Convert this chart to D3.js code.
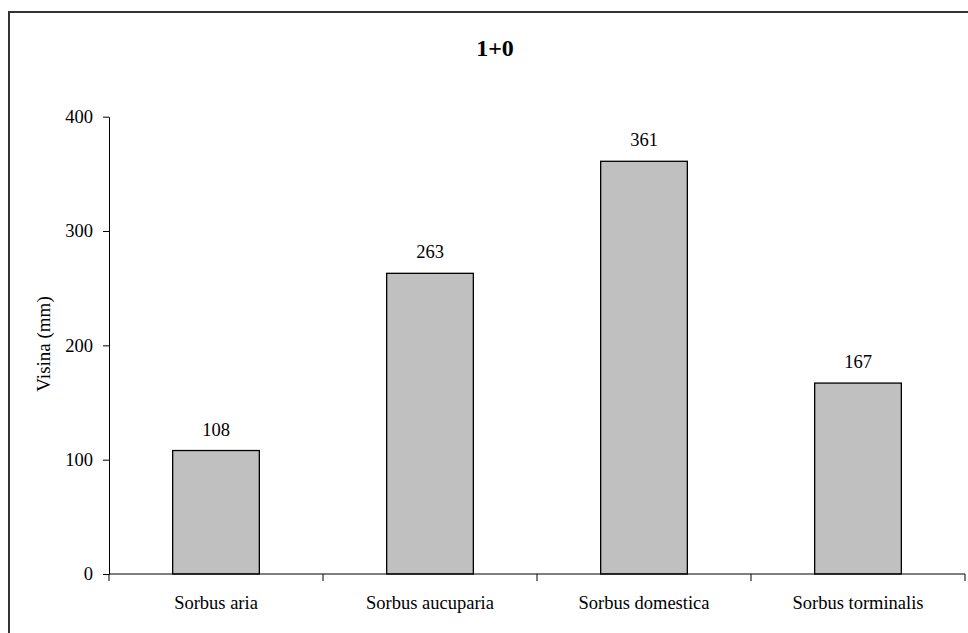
<!DOCTYPE html>
<html><head><meta charset="utf-8">
<script src="https://cdn.jsdelivr.net/npm/d3@7"></script>
<style>body{margin:0;background:#fff}svg{display:block}</style>
</head><body>
<script>
const categories = ["Sorbus aria","Sorbus aucuparia","Sorbus domestica","Sorbus torminalis"];
const values = [108,263,361,167];
const yTicks = [0,100,200,300,400];
const title = "1+0";
const yLabel = "Visina (mm)";

(function(){
const W = 968, H = 633, FF = "Liberation Serif", FS = 18.5;
const svg = d3.select("body").append("svg").attr("width", W).attr("height", H).attr("font-family",FF);
svg.append("rect").attr("x",9).attr("y",12).attr("width",W+10).attr("height",H+10)
  .attr("fill","none").attr("stroke","#333").attr("stroke-width",2);

const pL = 109, pR = 965, pT = 116.7, pB = 574;
const x = d3.scaleBand().domain(categories).range([pL,pR]).padding(0);
const y = d3.scaleLinear().domain([0,400]).range([pB, pT]);
const barW = x.bandwidth()*0.405;

svg.append("g").selectAll("rect").data(values).join("rect")
  .attr("x",(d,i)=>x(categories[i])+x.bandwidth()/2-barW/2)
  .attr("y",d=>y(d)).attr("width",barW).attr("height",d=>y(0)-y(d))
  .attr("fill","#c0c0c0").attr("stroke","#000").attr("stroke-width",1.3);

svg.append("g").selectAll("text").data(values).join("text")
  .attr("font-family",FF)
  .attr("x",(d,i)=>x(categories[i])+x.bandwidth()/2)
  .attr("y",d=>y(d)-15).attr("text-anchor","middle").attr("font-size",FS).text(d=>d);

// y axis
const ya = svg.append("g").attr("transform",`translate(${pL},0)`)
  .call(d3.axisLeft(y).tickValues(yTicks).tickSize(6).tickPadding(10).tickSizeOuter(0));
ya.attr("font-family",FF).attr("font-size",FS);
ya.select(".domain").attr("stroke","#000");
ya.selectAll("text").attr("font-size",FS).attr("font-family",FF);

// x axis
const boundaries = [0,1,2,3,4];
const xa = svg.append("g");
xa.append("line").attr("x1",pL).attr("x2",pR).attr("y1",pB).attr("y2",pB).attr("stroke","#000");
xa.selectAll("line.t").data(boundaries).join("line").attr("class","t")
  .attr("x1",d=>pL+d*x.step()).attr("x2",d=>pL+d*x.step())
  .attr("y1",pB).attr("y2",pB+7).attr("stroke","#000");
xa.selectAll("text").data(categories).join("text")
  .attr("font-family",FF)
  .attr("x",d=>x(d)+x.bandwidth()/2).attr("y",609).attr("text-anchor","middle")
  .attr("font-size",FS).text(d=>d);

svg.append("text").attr("font-family",FF).attr("x",495).attr("y",56).attr("text-anchor","middle")
  .attr("font-size",24).attr("font-weight","bold").text(title);
svg.append("text").attr("font-family",FF).attr("transform",`translate(50,344) rotate(-90)`)
  .attr("text-anchor","middle").attr("font-size",19).text(yLabel);
})();
</script>
</body></html>
